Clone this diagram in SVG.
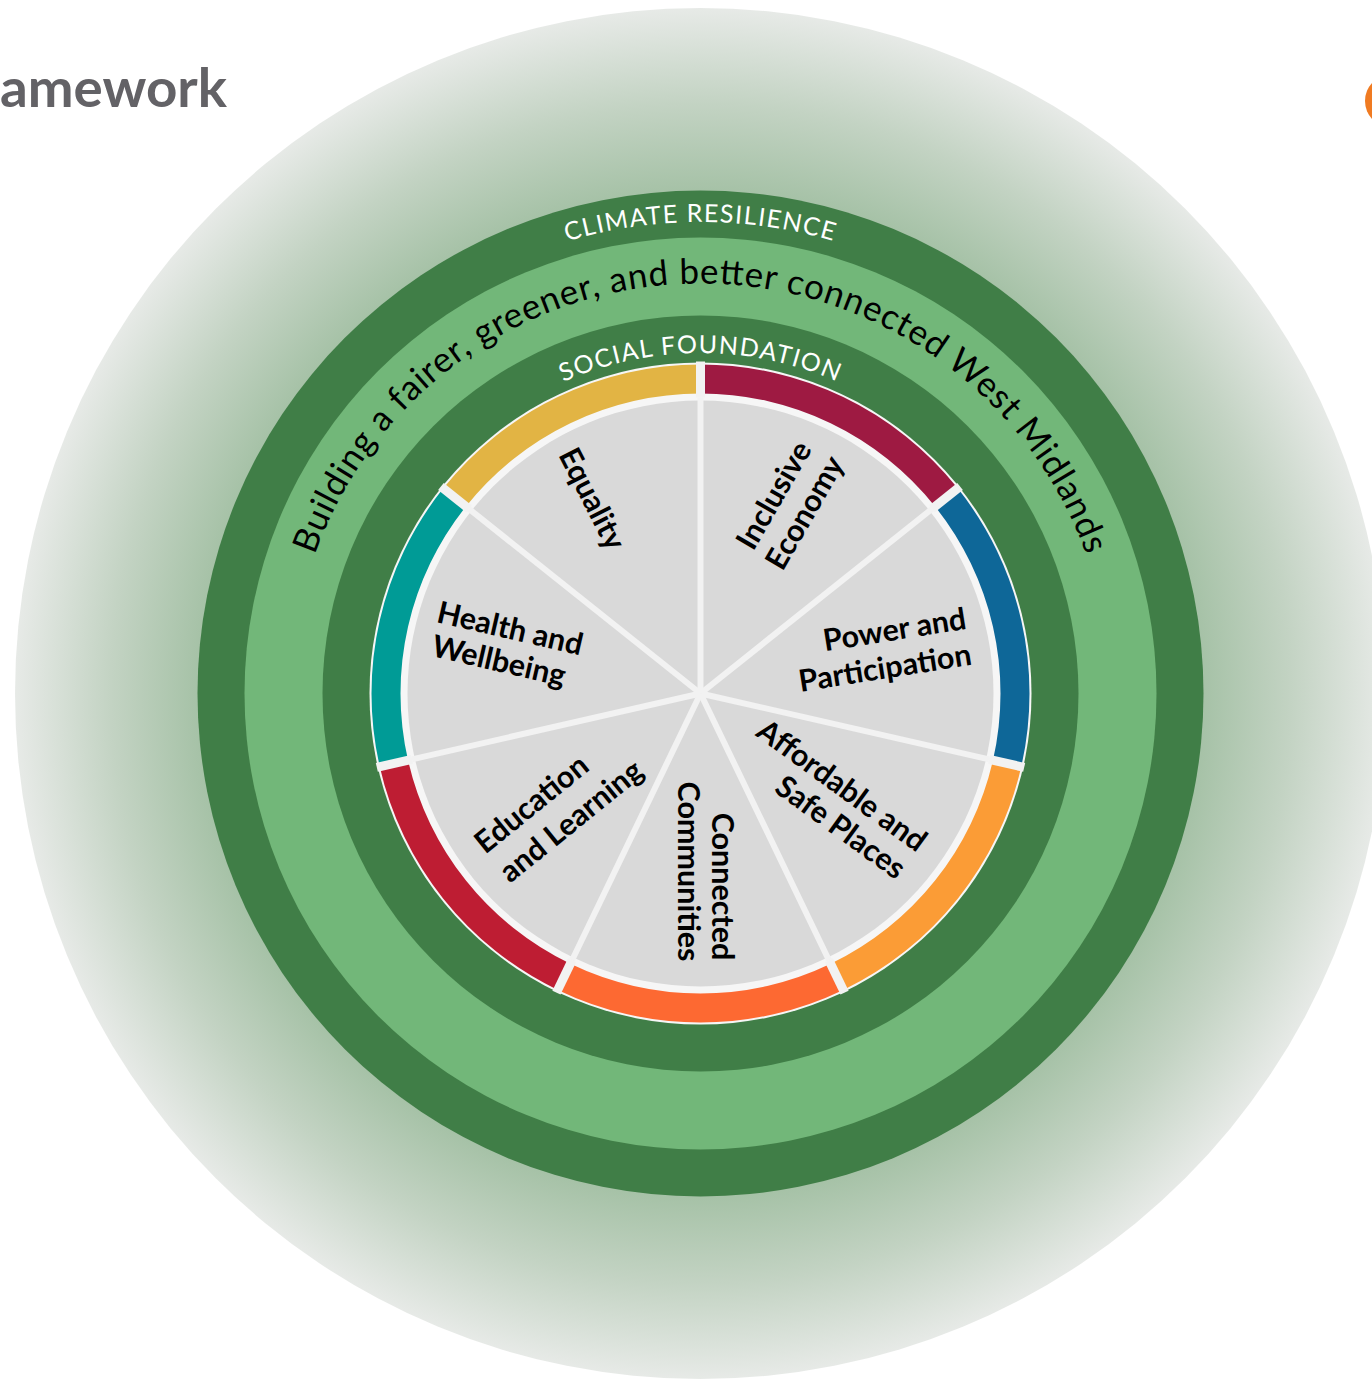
<svg xmlns="http://www.w3.org/2000/svg" width="1372" height="1380" viewBox="0 0 1372 1380">
  <defs>
    <radialGradient id="glow" cx="700.5" cy="693.5" r="686" gradientUnits="userSpaceOnUse">
      <stop offset="0" stop-color="#8fb391"/>
      <stop offset="0.72" stop-color="#a3c0a4"/>
      <stop offset="0.86" stop-color="#c3d3c3"/>
      <stop offset="1" stop-color="#e7eae7"/>
    </radialGradient>
    <path id="arcCR" d="M 229 693.5 A 471.5 471.5 0 0 1 1172 693.5"/>
    <path id="arcBuild" d="M 290.5 693.5 A 410 410 0 0 1 1110.5 693.5"/>
    <path id="arcSF" d="M 360 693.5 A 340.5 340.5 0 0 1 1041 693.5"/>
    <style>
      .ring-label { font-family: "Lato", "Liberation Sans", sans-serif; font-weight: 400; fill: #ffffff; font-size: 25px; letter-spacing: 1.4px; }
      .motto { font-family: "Lato", "Liberation Sans", sans-serif; font-weight: 400; fill: #000000; font-size: 35px; }
      .lbl { font-family: "Lato", "Liberation Sans", sans-serif; font-weight: 700; fill: #000000; font-size: 30.5px; text-anchor: middle; }
      .div-pie { stroke: #f2f2f2; stroke-width: 6; }
      .div-band { stroke: #f2f2f2; stroke-width: 9; }
    </style>
  </defs>

  <rect x="0" y="0" width="1372" height="1380" fill="#ffffff"/>

  <g id="title">
    <text x="0" y="107" font-family="Lato, 'Liberation Sans', sans-serif" font-weight="700" font-size="53" fill="#636266" textLength="227" lengthAdjust="spacingAndGlyphs">amework</text>
  </g>
  <g id="logo-fragment">
    <circle cx="1391.6" cy="101" r="26.6" fill="#f07b22"/>
  </g>

  <g id="glow-circle">
    <circle cx="700.5" cy="693.5" r="685.5" fill="url(#glow)"/>
  </g>

  <g id="climate-resilience">
    <circle cx="700.5" cy="693.5" r="503" fill="#407e47"/>
    <text class="ring-label"><textPath href="#arcCR" startOffset="50%" text-anchor="middle">CLIMATE RESILIENCE</textPath></text>
  </g>

  <g id="motto-ring">
    <circle cx="700.5" cy="693.5" r="456" fill="#72b779"/>
    <text class="motto"><textPath href="#arcBuild" startOffset="50%" text-anchor="middle" textLength="1005" lengthAdjust="spacing">Building a fairer, greener, and better connected West Midlands</textPath></text>
  </g>

  <g id="social-foundation">
    <circle cx="700.5" cy="693.5" r="378" fill="#407e47"/>
    <text class="ring-label"><textPath href="#arcSF" startOffset="50%" text-anchor="middle">SOCIAL FOUNDATION</textPath></text>
  </g>

  <g id="pie-base">
    <circle cx="700.5" cy="693.5" r="331" fill="#f6f6f6"/>
    <circle cx="700.5" cy="693.5" r="293" fill="#d9d9d9"/>
  </g>

  <g id="inclusive-economy">
    <path d="M 700.5 364.5 A 329 329 0 0 1 957.72 488.37 L 935.05 506.45 A 300 300 0 0 0 700.5 393.5 Z" fill="#9e1a42"/>
    <g transform="translate(774.2 495.4) rotate(-60)"><text class="lbl" dy="0.33em">Inclusive</text></g>
    <g transform="translate(805 512.9) rotate(-60)"><text class="lbl" dy="0.33em">Economy</text></g>
  </g>

  <g id="power-participation">
    <path d="M 957.72 488.37 A 329 329 0 0 1 1021.25 766.71 L 992.98 760.26 A 300 300 0 0 0 935.05 506.45 Z" fill="#0e6798"/>
    <g transform="translate(894.6 630) rotate(-9)"><text class="lbl" dy="0.33em">Power and</text></g>
    <g transform="translate(885 668.3) rotate(-9)"><text class="lbl" dy="0.33em">Participation</text></g>
  </g>

  <g id="affordable-safe-places">
    <path d="M 1021.25 766.71 A 329 329 0 0 1 843.25 989.92 L 830.66 963.79 A 300 300 0 0 0 992.98 760.26 Z" fill="#fb9c36"/>
    <g transform="translate(841.7 785.8) rotate(36)"><text class="lbl" dy="0.33em">Affordable and</text></g>
    <g transform="translate(840.4 827.5) rotate(36)"><text class="lbl" dy="0.33em">Safe Places</text></g>
  </g>

  <g id="connected-communities">
    <path d="M 843.25 989.92 A 329 329 0 0 1 557.75 989.92 L 570.34 963.79 A 300 300 0 0 0 830.66 963.79 Z" fill="#fd6932"/>
    <g transform="translate(722 886.5) rotate(90)"><text class="lbl" dy="0.33em">Connected</text></g>
    <g transform="translate(688 871.5) rotate(90)"><text class="lbl" dy="0.33em">Communities</text></g>
  </g>

  <g id="education-learning">
    <path d="M 557.75 989.92 A 329 329 0 0 1 379.75 766.71 L 408.02 760.26 A 300 300 0 0 0 570.34 963.79 Z" fill="#be1d33"/>
    <g transform="translate(531.7 804.2) rotate(-39)"><text class="lbl" dy="0.33em">Education</text></g>
    <g transform="translate(571.3 821.3) rotate(-39)"><text class="lbl" dy="0.33em">and Learning</text></g>
  </g>

  <g id="health-wellbeing">
    <path d="M 379.75 766.71 A 329 329 0 0 1 443.28 488.37 L 465.95 506.45 A 300 300 0 0 0 408.02 760.26 Z" fill="#009b96"/>
    <g transform="translate(510 628.8) rotate(13)"><text class="lbl" dy="0.33em">Health and</text></g>
    <g transform="translate(498.8 661.3) rotate(13)"><text class="lbl" dy="0.33em">Wellbeing</text></g>
  </g>

  <g id="equality">
    <path d="M 443.28 488.37 A 329 329 0 0 1 700.5 364.5 L 700.5 393.5 A 300 300 0 0 0 465.95 506.45 Z" fill="#e2b444"/>
    <g transform="translate(592 499) rotate(63)"><text class="lbl" dy="0.33em">Equality</text></g>
  </g>

  <g id="connectors">
    <line class="div-pie" x1="700.5" y1="693.5" x2="700.5" y2="397.5"/>
    <line class="div-pie" x1="700.5" y1="693.5" x2="931.92" y2="508.95"/>
    <line class="div-pie" x1="700.5" y1="693.5" x2="989.08" y2="759.37"/>
    <line class="div-pie" x1="700.5" y1="693.5" x2="828.93" y2="960.19"/>
    <line class="div-pie" x1="700.5" y1="693.5" x2="572.07" y2="960.19"/>
    <line class="div-pie" x1="700.5" y1="693.5" x2="411.92" y2="759.37"/>
    <line class="div-pie" x1="700.5" y1="693.5" x2="469.08" y2="508.95"/>
    <line class="div-band" x1="700.5" y1="397.5" x2="700.5" y2="361.5"/>
    <line class="div-band" x1="931.92" y1="508.95" x2="960.07" y2="486.5"/>
    <line class="div-band" x1="989.08" y1="759.37" x2="1024.18" y2="767.38"/>
    <line class="div-band" x1="828.93" y1="960.19" x2="844.55" y2="992.62"/>
    <line class="div-band" x1="572.07" y1="960.19" x2="556.45" y2="992.62"/>
    <line class="div-band" x1="411.92" y1="759.37" x2="376.82" y2="767.38"/>
    <line class="div-band" x1="469.08" y1="508.95" x2="440.93" y2="486.5"/>
  </g>
</svg>
